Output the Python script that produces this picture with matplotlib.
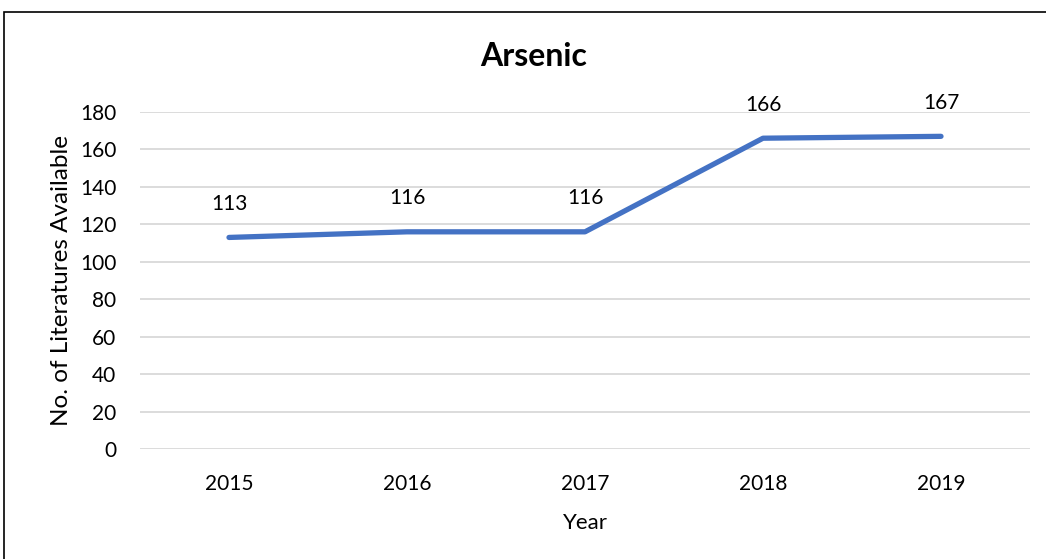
import matplotlib
matplotlib.use("Agg")
import matplotlib.pyplot as plt
from matplotlib.patches import Rectangle

years = ["2015", "2016", "2017", "2018", "2019"]
counts = [113, 116, 116, 166, 167]
yticks = [0, 20, 40, 60, 80, 100, 120, 140, 160, 180]

W, H = 1046, 559
fig = plt.figure(figsize=(W / 100, H / 100), dpi=100)
plt.rcParams['font.family'] = ['Lato', 'DejaVu Sans']

# chart border
fig.patches.append(Rectangle((4 / W, -0.1), 1.2, (H - 12) / H + 0.1, transform=fig.transFigure,
                             fill=False, edgecolor='black', linewidth=1.2, zorder=0))

ax = fig.add_axes([140 / W, (H - 449) / H, 890 / W, (449 - 112) / H])
x = [i + 0.5 for i in range(len(years))]
ax.plot(x, counts, color='#4472C4', linewidth=3.8, solid_capstyle='round', solid_joinstyle='round')
for xi, v in zip(x, counts):
    ax.annotate(str(v), (xi, v), xytext=(0, 17), textcoords='offset points',
                ha='center', va='bottom', fontsize=15, color='black')

ax.set_xlim(0, 5)
ax.set_ylim(0, 180)
ax.set_yticks(yticks)
ax.set_xticks(x)
ax.set_xticklabels(years)
ax.grid(axis='y', color='#d9d9d9', linewidth=1.3)
ax.set_axisbelow(True)
for s in ax.spines.values():
    s.set_visible(False)
ax.tick_params(length=0, labelsize=15, colors='black')
ax.tick_params(axis='y', pad=17)
ax.tick_params(axis='x', pad=18)
ax.set_xlabel("Year", fontsize=16, labelpad=14)
ax.set_ylabel("No. of Literatures Available", fontsize=17.5, labelpad=6)
fig.text(534 / W, 1 - 56 / H, "Arsenic", ha='center', va='center', fontsize=23, fontweight='bold')

fig.savefig("out.png", dpi=100)
